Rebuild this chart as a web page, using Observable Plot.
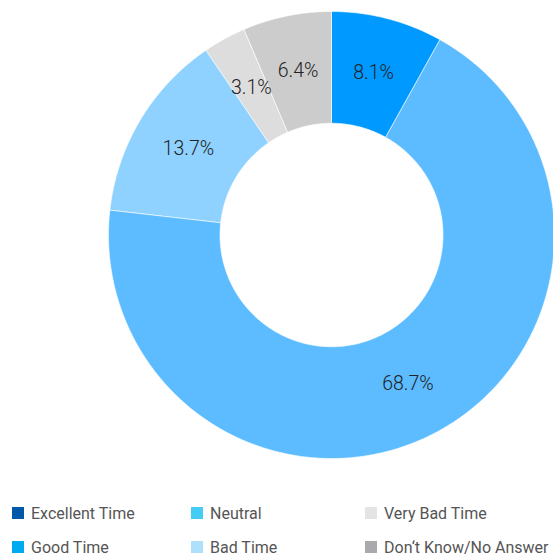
<!DOCTYPE html>
<html>
<head>
<meta charset="utf-8">
<script src="https://cdn.jsdelivr.net/npm/d3@7"></script>
<script src="https://cdn.jsdelivr.net/npm/@observablehq/plot@0.6"></script>
<style>
  html, body { margin: 0; padding: 0; background: #fff; }
  #wrap { position: relative; width: 553px; height: 558px; overflow: hidden; font-family: Roboto, "Liberation Sans", sans-serif; }
  #legend { position: absolute; left: 12px; top: 503px; display: grid; grid-template-columns: 179px 174px 180px; grid-auto-rows: 34px; grid-auto-flow: column; grid-template-rows: 34px 34px; }
  .item { display: flex; align-items: center; height: 20px; font-size: 16px; color: #555; white-space: nowrap; }
  .sw { width: 12px; height: 12px; margin-right: 7px; flex: none; }
</style>
</head>
<body>
<div id="wrap">
  <div id="chart"></div>
  <div id="legend"></div>
</div>
<script>
const categories = ["Excellent Time", "Good Time", "Neutral", "Bad Time", "Very Bad Time", "Don‘t Know/No Answer"];
const values = [0, 8.1, 68.7, 13.7, 3.1, 6.4];
const labels = ["", "8.1%", "68.7%", "13.7%", "3.1%", "6.4%"];
const sliceColors = ["#0058a8", "#0099ff", "#5cbcff", "#8fd2ff", "#dddddd", "#cccccc"];
const legendColors = ["#0058a8", "#00aaee", "#44ccf4", "#aee0fa", "#e4e4e6", "#aaaaae"];
const legendOrder = ["Excellent Time", "Good Time", "Neutral", "Bad Time", "Very Bad Time", "Don‘t Know/No Answer"];

const R_OUT = 1, R_IN = 0.5, R_LABEL = 0.75;
const total = d3.sum(values);
let cum = 0;
const slices = categories.map((c, i) => {
  const a0 = cum / total * 2 * Math.PI;
  cum += values[i];
  const a1 = cum / total * 2 * Math.PI;
  return {category: c, value: values[i], label: labels[i], a0, a1};
}).filter(s => s.value > 0);

// polygon vertices for each slice, derived from the data angles
const verts = [];
for (const s of slices) {
  const n = Math.max(2, Math.ceil((s.a1 - s.a0) / 0.01));
  for (let k = 0; k <= n; k++) {
    const a = s.a0 + (s.a1 - s.a0) * k / n;
    verts.push({category: s.category, x: R_OUT * Math.sin(a), y: R_OUT * Math.cos(a)});
  }
  for (let k = n; k >= 0; k--) {
    const a = s.a0 + (s.a1 - s.a0) * k / n;
    verts.push({category: s.category, x: R_IN * Math.sin(a), y: R_IN * Math.cos(a)});
  }
}
const labelPts = slices.map(s => {
  const a = (s.a0 + s.a1) / 2;
  return {label: s.label, x: R_LABEL * Math.sin(a), y: R_LABEL * Math.cos(a)};
});

const chart = Plot.plot({
  width: 553,
  height: 470,
  margin: 0,
  x: {domain: [-1, 1], range: [108, 554], axis: null},
  y: {domain: [-1, 1], range: [458, 11], axis: null},
  color: {domain: categories, range: sliceColors},
  marks: [
    Plot.line(verts, {x: "x", y: "y", z: "category", fill: "category", stroke: "white", strokeWidth: 0.6, curve: "linear-closed"}),
    Plot.text(labelPts, {x: "x", y: "y", text: "label", fontSize: 19.5, fill: "#222", fontFamily: "Roboto, 'Liberation Sans', sans-serif", fontWeight: 300})
  ]
});
document.getElementById("chart").appendChild(chart);

const legend = document.getElementById("legend");
legendOrder.forEach(c => {
  const i = categories.indexOf(c);
  const it = document.createElement("div");
  it.className = "item";
  it.innerHTML = `<span class="sw" style="background:${legendColors[i]}"></span><span>${c}</span>`;
  legend.appendChild(it);
});
</script>
</body>
</html>
